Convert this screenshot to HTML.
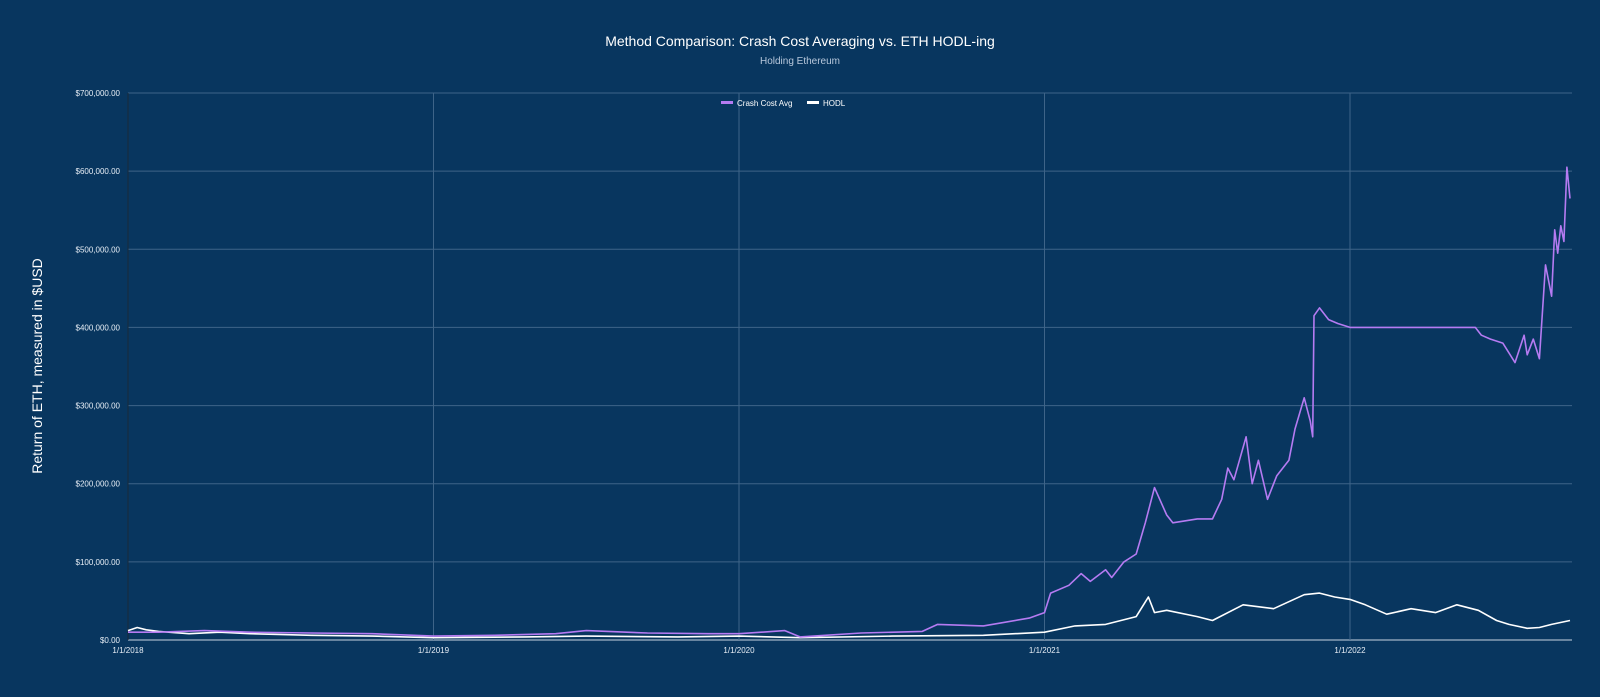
<!DOCTYPE html>
<html><head><meta charset="utf-8"><style>
html,body{margin:0;padding:0;background:#08365f;}
svg{display:block;font-family:"Liberation Sans",sans-serif;}
</style></head><body>
<svg id="chart" width="1600" height="697" viewBox="0 0 1600 697">
<rect width="1600" height="697" fill="#08365f"/>
<text x="800" y="46" text-anchor="middle" fill="#ffffff" font-size="14">Method Comparison: Crash Cost Averaging vs. ETH HODL-ing</text>
<text x="800" y="64" text-anchor="middle" fill="#b8c8dc" font-size="10">Holding Ethereum</text>
<text transform="translate(42,366) rotate(-90)" text-anchor="middle" fill="#ffffff" font-size="14">Return of ETH, measured in $USD</text>
<g id="grid"></g><g id="axes"></g><g id="series"></g>
<g>
<rect x="721" y="101" width="12" height="3" fill="#b57bf2"/>
<text x="737" y="106" fill="#ffffff" font-size="8">Crash Cost Avg</text>
<rect x="807" y="101" width="12" height="3" fill="#ffffff"/>
<text x="823" y="106" fill="#ffffff" font-size="8">HODL</text>
</g>
</svg>
<script>
const yTicks=[0,100000,200000,300000,400000,500000,600000,700000];
const yTickLabels=["$0.00","$100,000.00","$200,000.00","$300,000.00","$400,000.00","$500,000.00","$600,000.00","$700,000.00"];
const xTicks=[0,1,2,3,4];
const xTickLabels=["1/1/2018","1/1/2019","1/1/2020","1/1/2021","1/1/2022"];
// time in years since 1/1/2018, value in USD
const ccaT=[0,0.1,0.25,0.4,0.6,0.8,1.0,1.2,1.4,1.5,1.7,1.9,2.0,2.15,2.2,2.4,2.6,2.65,2.8,2.95,3.0,3.02,3.08,3.12,3.15,3.2,3.22,3.26,3.3,3.33,3.36,3.4,3.42,3.5,3.55,3.58,3.6,3.62,3.66,3.68,3.7,3.73,3.76,3.8,3.82,3.85,3.87,3.878,3.882,3.9,3.93,3.96,4.0,4.41,4.43,4.46,4.5,4.54,4.57,4.58,4.6,4.62,4.64,4.66,4.67,4.68,4.69,4.7,4.71,4.72];
const ccaV=[10000,10000,12000,10000,9000,8000,5000,6000,8000,12000,9000,8000,8000,12000,4000,9000,11000,20000,18000,28000,35000,60000,70000,85000,75000,90000,80000,100000,110000,150000,195000,160000,150000,155000,155000,180000,220000,205000,260000,200000,230000,180000,210000,230000,270000,310000,280000,260000,415000,425000,410000,405000,400000,400000,390000,385000,380000,355000,390000,365000,385000,360000,480000,440000,525000,495000,530000,510000,605000,565000];
const hodlT=[0,0.03,0.06,0.1,0.2,0.3,0.4,0.6,0.8,1.0,1.3,1.5,1.8,2.0,2.2,2.5,2.8,3.0,3.1,3.2,3.3,3.34,3.36,3.4,3.5,3.55,3.65,3.75,3.85,3.9,3.95,4.0,4.05,4.12,4.2,4.28,4.35,4.42,4.48,4.52,4.58,4.62,4.66,4.72];
const hodlV=[12000,16000,13000,11000,8000,10000,8000,6000,5000,3000,4000,5000,4000,5000,3000,5000,6000,10000,18000,20000,30000,55000,35000,38000,30000,25000,45000,40000,58000,60000,55000,52000,45000,33000,40000,35000,45000,38000,25000,20000,15000,16000,20000,25000];
const X0=128,PXY=305.5,Y0=640,PYV=547/700000;
const xs=t=>X0+t*PXY, ys=v=>Y0-v*PYV;
const NS="http://www.w3.org/2000/svg";
const grid=document.getElementById('grid'),axes=document.getElementById('axes'),ser=document.getElementById('series');
yTicks.forEach((v,i)=>{
 const l=document.createElementNS(NS,'line');
 
 
 l.setAttribute('x1',X0);l.setAttribute('x2',1572);l.setAttribute('y1',ys(v));l.setAttribute('y2',ys(v));
 l.setAttribute('stroke',i==0?'#c8d4e0':'#3e6488');l.setAttribute('stroke-width',1);grid.appendChild(l);
 const t=document.createElementNS(NS,'text');
 
 
 t.setAttribute('x',120);t.setAttribute('y',ys(v)+3);t.setAttribute('text-anchor','end');t.setAttribute('fill','#e6edf5');t.setAttribute('font-size','8');
 t.textContent=yTickLabels[i];axes.appendChild(t);
});
xTicks.forEach((v,i)=>{
 const l=document.createElementNS(NS,'line');
 
 
 l.setAttribute('x1',xs(v));l.setAttribute('x2',xs(v));l.setAttribute('y1',93);l.setAttribute('y2',Y0);
 l.setAttribute('stroke',i==0?'#1a2a3a':'#3e6488');l.setAttribute('stroke-width',1);grid.appendChild(l);
 const t=document.createElementNS(NS,'text');
 
 
 t.setAttribute('x',xs(v));t.setAttribute('y',653);t.setAttribute('text-anchor','middle');t.setAttribute('fill','#e6edf5');t.setAttribute('font-size','8');
 t.textContent=xTickLabels[i];axes.appendChild(t);
});
function line(T,V,color,name){
 const p=document.createElementNS(NS,'path');
 
 
 p.setAttribute('d',T.map((t,i)=>(i?'L':'M')+xs(t).toFixed(1)+','+ys(V[i]).toFixed(1)).join(''));
 p.setAttribute('fill','none');p.setAttribute('stroke',color);p.setAttribute('stroke-width',1.6);p.setAttribute('stroke-linejoin','round');
 ser.appendChild(p);
}
line(hodlT,hodlV,'#ffffff','hodl-line');
line(ccaT,ccaV,'#b57bf2','cca-line');
</script>
</body></html>
